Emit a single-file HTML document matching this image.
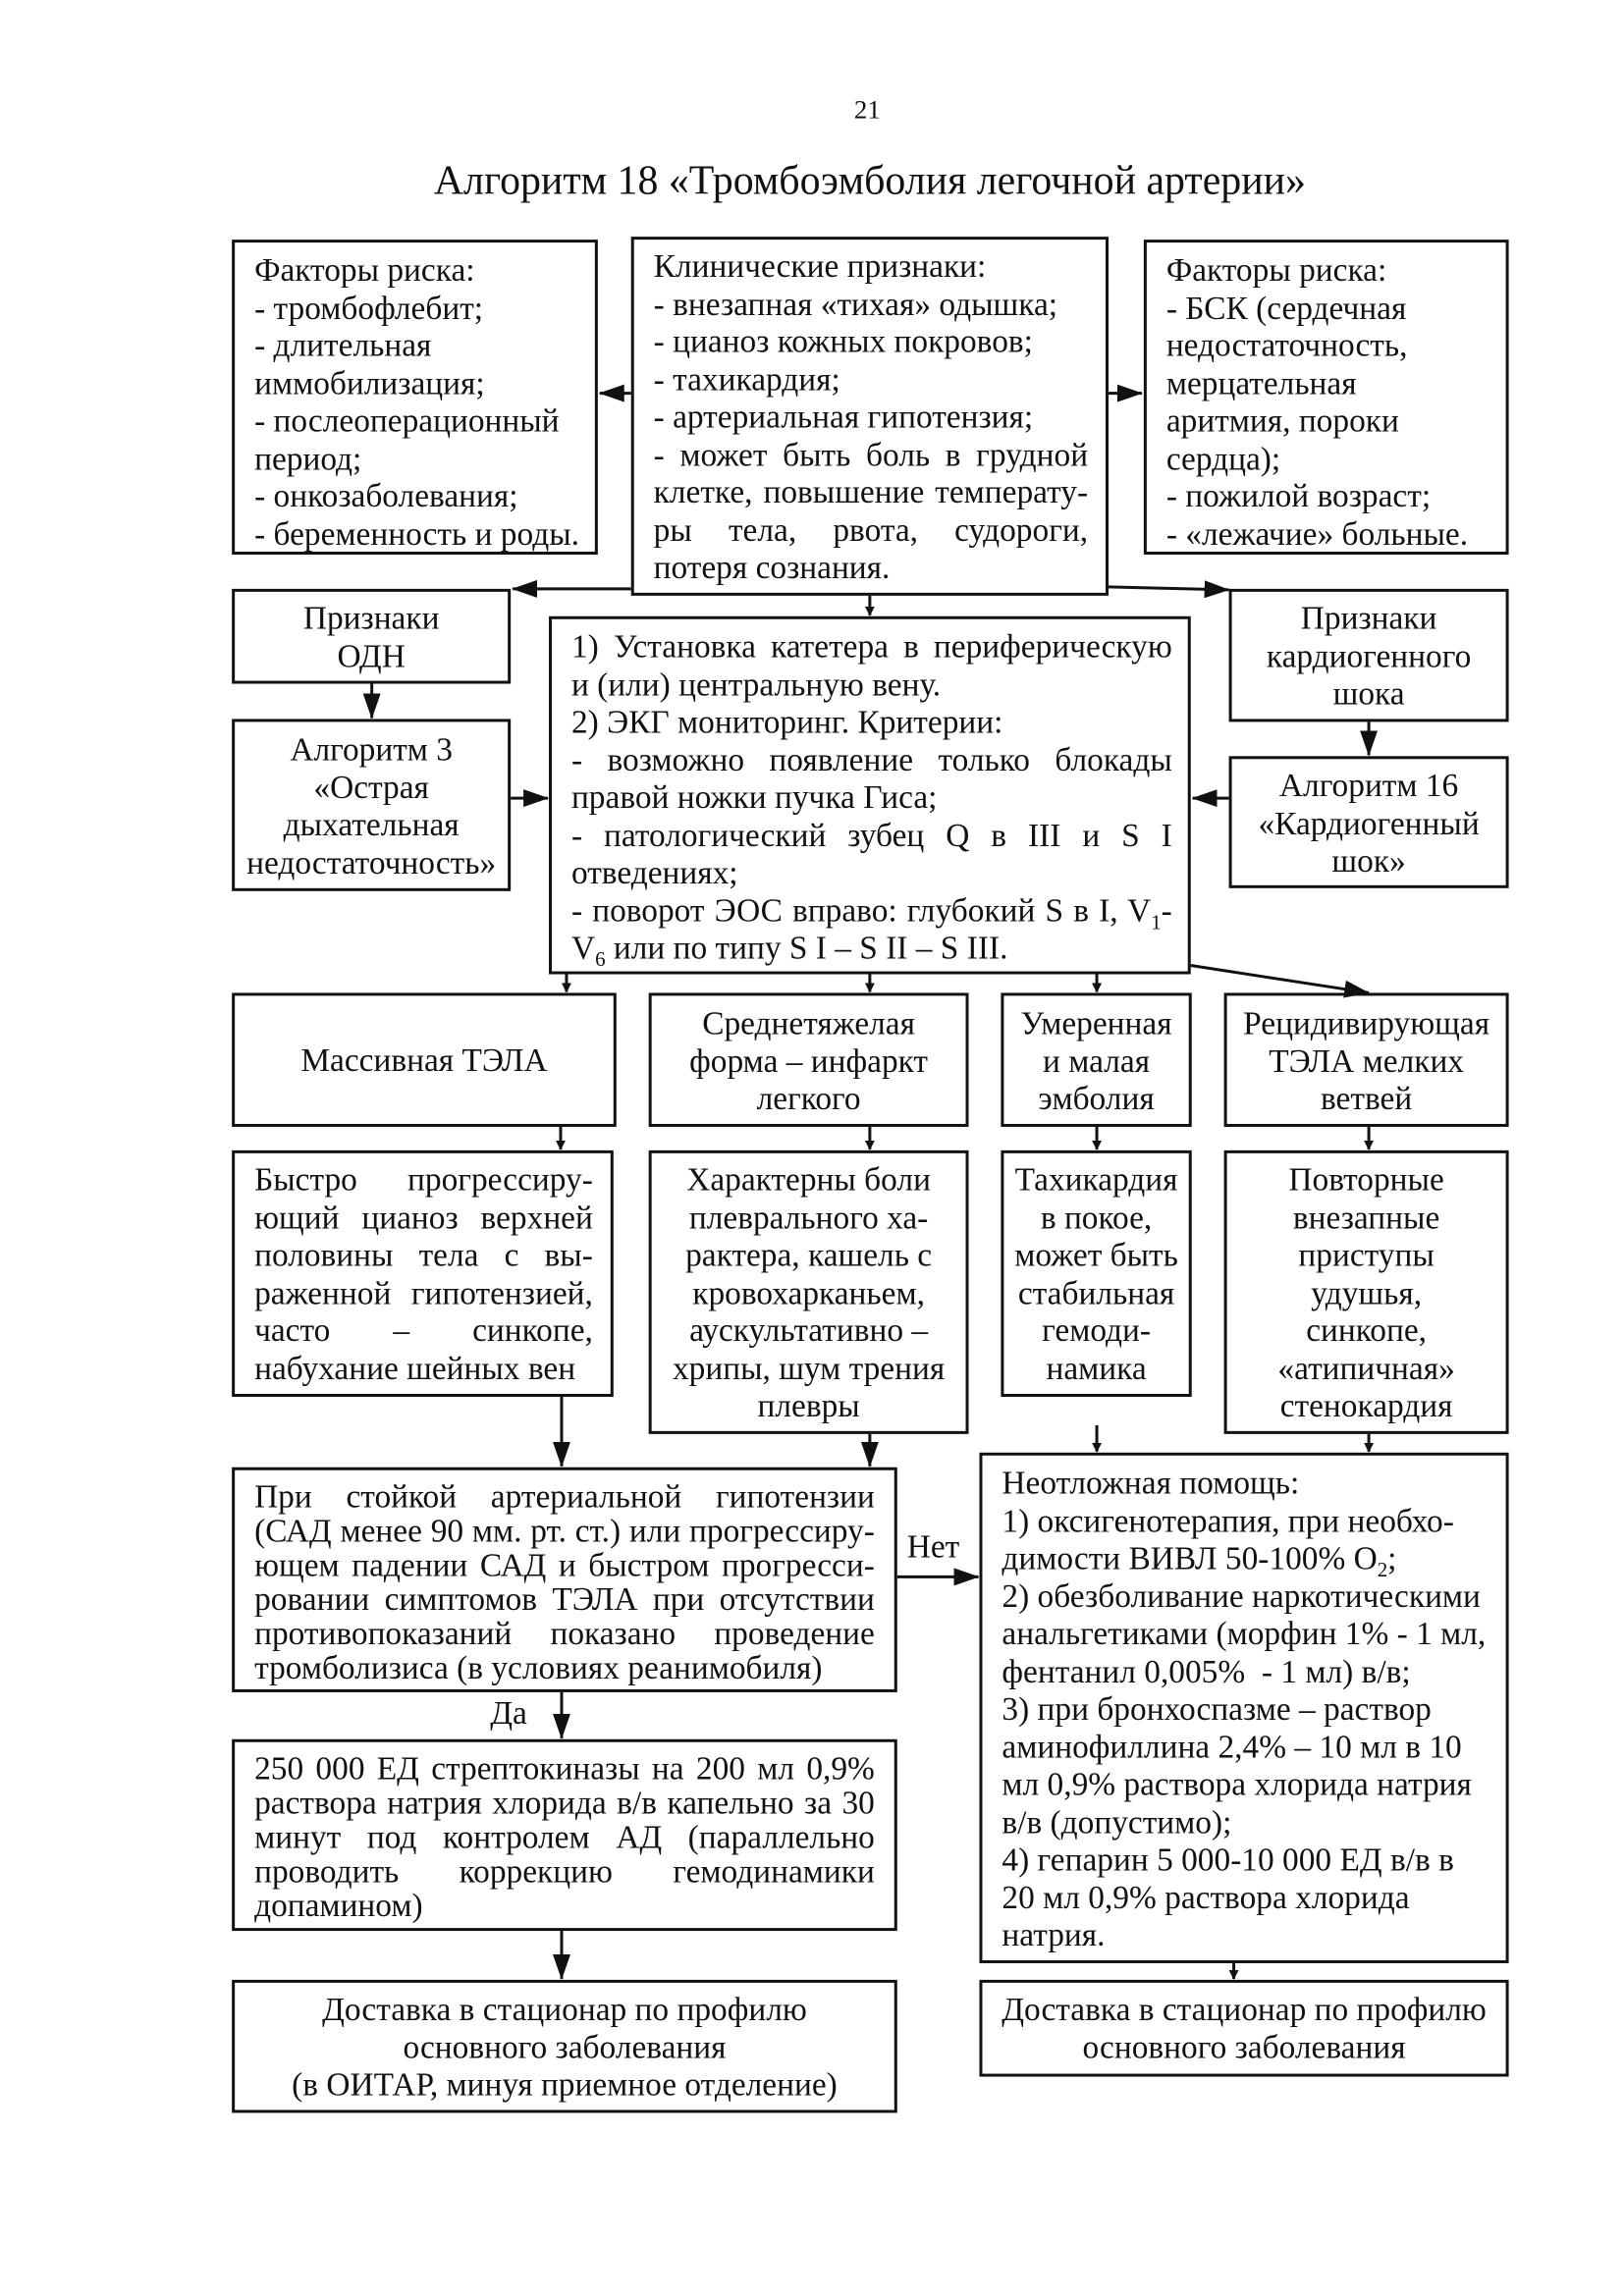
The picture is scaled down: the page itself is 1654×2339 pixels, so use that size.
<!DOCTYPE html>
<html><head><meta charset="utf-8">
<style>
body{margin:0;background:#fff;}
#p{position:relative;width:1654px;height:2339px;background:#fff;overflow:hidden;}
#q{position:absolute;left:0;top:0;width:1654px;height:2339px;transform:translate(-3px,-3px) scale(0.9965);transform-origin:0 0;font-family:"Liberation Serif","Noto Serif CJK SC",serif;color:#111;font-size:33.5px;}
.b{position:absolute;border:3px solid #111;box-sizing:border-box;overflow:hidden;}
.l{height:38.5px;line-height:38.5px;white-space:nowrap;}
.s .l{height:35px;line-height:35px;}
.j{text-align:justify;text-align-last:justify;}
.c{text-align:center;}
sub{font-size:21px;line-height:0;}
svg{position:absolute;left:0;top:0;}
.t{position:absolute;white-space:nowrap;}
</style></head><body><div id="p"><div id="q">
<div class="t" style="left:876px;top:100px;font-size:27px;">21</div>
<div class="t" style="left:0;width:1784px;top:164px;text-align:center;font-size:42px;">Алгоритм 18 «Тромбоэмболия легочной артерии»</div>

<div class="b" style="left:240px;top:248px;width:374px;height:322px;padding:10px 6px 0 20px;">
<div class="l">Факторы риска:</div><div class="l">- тромбофлебит;</div><div class="l">- длительная</div><div class="l">иммобилизация;</div><div class="l">- послеоперационный</div><div class="l">период;</div><div class="l">- онкозаболевания;</div><div class="l">- беременность и роды.</div></div>

<div class="b" style="left:648px;top:245px;width:488px;height:367px;padding:9px 18px 0 20px;">
<div class="l">Клинические признаки:</div><div class="l">- внезапная «тихая» одышка;</div><div class="l">- цианоз кожных покровов;</div><div class="l">- тахикардия;</div><div class="l">- артериальная гипотензия;</div><div class="l j">- может быть боль в грудной</div><div class="l j">клетке, повышение температу-</div><div class="l j">ры тела, рвота, судороги,</div><div class="l">потеря сознания.</div></div>

<div class="b" style="left:1172px;top:248px;width:373px;height:322px;padding:10px 6px 0 20px;">
<div class="l">Факторы риска:</div><div class="l">- БСК (сердечная</div><div class="l">недостаточность,</div><div class="l">мерцательная</div><div class="l">аритмия, пороки</div><div class="l">сердца);</div><div class="l">- пожилой возраст;</div><div class="l">- «лежачие» больные.</div></div>

<div class="b c" style="left:240px;top:605px;width:285px;height:97px;padding-top:9px;">
<div class="l">Признаки</div><div class="l">ОДН</div></div>

<div class="b" style="left:564px;top:633px;width:656px;height:366px;padding:10px 16px 0 20px;">
<div class="l j">1) Установка катетера в периферическую</div><div class="l">и (или) центральную вену.</div><div class="l">2) ЭКГ мониторинг. Критерии:</div><div class="l j">- возможно появление только блокады</div><div class="l">правой ножки пучка Гиса;</div><div class="l j">- патологический зубец Q в III и S I</div><div class="l">отведениях;</div><div class="l j">- поворот ЭОС вправо: глубокий S в I, V<sub>1</sub>-</div><div class="l">V<sub>6</sub> или по типу S I – S II – S III.</div></div>

<div class="b c" style="left:1259px;top:605px;width:286px;height:136px;padding-top:9px;">
<div class="l">Признаки</div><div class="l">кардиогенного</div><div class="l">шока</div></div>

<div class="b c" style="left:240px;top:738px;width:285px;height:176px;padding-top:10px;">
<div class="l">Алгоритм 3</div><div class="l">«Острая</div><div class="l">дыхательная</div><div class="l">недостаточность»</div></div>

<div class="b c" style="left:1259px;top:776px;width:286px;height:135px;padding-top:9px;">
<div class="l">Алгоритм 16</div><div class="l">«Кардиогенный</div><div class="l">шок»</div></div>

<div class="b c" style="left:240px;top:1018px;width:393px;height:137px;padding-top:48px;"><div class="l">Массивная ТЭЛА</div></div>
<div class="b c" style="left:666px;top:1018px;width:327px;height:137px;padding-top:10px;"><div class="l">Среднетяжелая</div><div class="l">форма – инфаркт</div><div class="l">легкого</div></div>
<div class="b c" style="left:1026px;top:1018px;width:195px;height:137px;padding-top:10px;"><div class="l">Умеренная</div><div class="l">и малая</div><div class="l">эмболия</div></div>
<div class="b c" style="left:1254px;top:1018px;width:291px;height:137px;padding-top:10px;"><div class="l">Рецидивирующая</div><div class="l">ТЭЛА мелких</div><div class="l">ветвей</div></div>

<div class="b" style="left:240px;top:1179px;width:390px;height:252px;padding:9px 18px 0 20px;">
<div class="l j">Быстро прогрессиру-</div><div class="l j">ющий цианоз верхней</div><div class="l j">половины тела с вы-</div><div class="l j">раженной гипотензией,</div><div class="l j">часто – синкопе,</div><div class="l">набухание шейных вен</div></div>
<div class="b c" style="left:666px;top:1179px;width:327px;height:290px;padding-top:9px;">
<div class="l">Характерны боли</div><div class="l">плеврального ха-</div><div class="l">рактера, кашель с</div><div class="l">кровохарканьем,</div><div class="l">аускультативно –</div><div class="l">хрипы, шум трения</div><div class="l">плевры</div></div>
<div class="b c" style="left:1026px;top:1179px;width:195px;height:252px;padding-top:9px;">
<div class="l">Тахикардия</div><div class="l">в покое,</div><div class="l">может быть</div><div class="l">стабильная</div><div class="l">гемоди-</div><div class="l">намика</div></div>
<div class="b c" style="left:1254px;top:1179px;width:291px;height:290px;padding-top:9px;">
<div class="l">Повторные</div><div class="l">внезапные</div><div class="l">приступы</div><div class="l">удушья,</div><div class="l">синкопе,</div><div class="l">«атипичная»</div><div class="l">стенокардия</div></div>

<div class="b s" style="left:240px;top:1503px;width:680px;height:230px;padding:10px 20px 0 20px;">
<div class="l j">При стойкой артериальной гипотензии</div><div class="l j">(САД менее 90 мм. рт. ст.) или прогрессиру-</div><div class="l j">ющем падении САД и быстром прогресси-</div><div class="l j">ровании симптомов ТЭЛА при отсутствии</div><div class="l j">противопоказаний показано проведение</div><div class="l">тромболизиса (в условиях реанимобиля)</div></div>

<div class="b" style="left:1004px;top:1488px;width:541px;height:522px;padding:10px 6px 0 20px;">
<div class="l">Неотложная помощь:</div><div class="l">1) оксигенотерапия, при необхо-</div><div class="l">димости ВИВЛ 50-100% O<sub>2</sub>;</div><div class="l">2) обезболивание наркотическими</div><div class="l">анальгетиками (морфин 1% - 1 мл,</div><div class="l">фентанил 0,005%&nbsp; - 1 мл) в/в;</div><div class="l">3) при бронхоспазме – раствор</div><div class="l">аминофиллина 2,4% – 10 мл в 10</div><div class="l">мл 0,9% раствора хлорида натрия</div><div class="l">в/в (допустимо);</div><div class="l">4) гепарин 5 000-10 000 ЕД в/в в</div><div class="l">20 мл 0,9% раствора хлорида</div><div class="l">натрия.</div></div>

<div class="b s" style="left:240px;top:1781px;width:680px;height:196px;padding:10px 20px 0 20px;">
<div class="l j">250 000 ЕД стрептокиназы на 200 мл 0,9%</div><div class="l j">раствора натрия хлорида в/в капельно за 30</div><div class="l j">минут под контролем АД (параллельно</div><div class="l j">проводить коррекцию гемодинамики</div><div class="l">допамином)</div></div>

<div class="b c" style="left:240px;top:2027px;width:680px;height:136px;padding-top:9px;">
<div class="l">Доставка в стационар по профилю</div><div class="l">основного заболевания</div><div class="l">(в ОИТАР, минуя приемное отделение)</div></div>
<div class="b c" style="left:1004px;top:2027px;width:541px;height:99px;padding-top:9px;">
<div class="l">Доставка в стационар по профилю</div><div class="l">основного заболевания</div></div>

<div class="t" style="left:930px;top:1566px;">Нет</div>
<div class="t" style="left:504px;top:1736px;">Да</div>

<svg width="1654" height="2339" viewBox="0 0 1654 2339">
<defs><marker id="a" markerWidth="10" markerHeight="10" refX="9" refY="5" orient="auto" markerUnits="userSpaceOnUse"><path d="M0,0 L10,5 L0,10 z" fill="#111"/></marker>
<marker id="A" markerWidth="26" markerHeight="18" refX="25" refY="9" orient="auto" markerUnits="userSpaceOnUse"><path d="M0,0 L26,9 L0,18 z" fill="#111"/></marker></defs>
<g stroke="#111" stroke-width="3" fill="none">
<line x1="648" y1="405" x2="616" y2="405" marker-end="url(#A)"/>
<line x1="1136" y1="405" x2="1170" y2="405" marker-end="url(#A)"/>
<line x1="648" y1="605" x2="527" y2="605" marker-end="url(#A)"/>
<line x1="1136" y1="603" x2="1259" y2="606" marker-end="url(#A)"/>
<line x1="892" y1="612" x2="892" y2="632" marker-end="url(#a)"/>
<line x1="383" y1="702" x2="383" y2="737" marker-end="url(#A)"/>
<line x1="525" y1="819" x2="563" y2="819" marker-end="url(#A)"/>
<line x1="1402" y1="741" x2="1402" y2="775" marker-end="url(#A)"/>
<line x1="1259" y1="819" x2="1222" y2="819" marker-end="url(#A)"/>
<line x1="582" y1="999" x2="582" y2="1017" marker-end="url(#a)"/>
<line x1="892" y1="999" x2="892" y2="1017" marker-end="url(#a)"/>
<line x1="1124" y1="999" x2="1124" y2="1017" marker-end="url(#a)"/>
<line x1="1220" y1="990" x2="1402" y2="1018" marker-end="url(#A)"/>
<line x1="576" y1="1155" x2="576" y2="1178" marker-end="url(#a)"/>
<line x1="892" y1="1155" x2="892" y2="1178" marker-end="url(#a)"/>
<line x1="1124" y1="1155" x2="1124" y2="1178" marker-end="url(#a)"/>
<line x1="1402" y1="1155" x2="1402" y2="1178" marker-end="url(#a)"/>
<line x1="577" y1="1431" x2="577" y2="1502" marker-end="url(#A)"/>
<line x1="892" y1="1469" x2="892" y2="1502" marker-end="url(#A)"/>
<line x1="1124" y1="1460" x2="1124" y2="1487" marker-end="url(#a)"/>
<line x1="1402" y1="1469" x2="1402" y2="1487" marker-end="url(#a)"/>
<line x1="920" y1="1615" x2="1003" y2="1615" marker-end="url(#A)"/>
<line x1="577" y1="1733" x2="577" y2="1780" marker-end="url(#A)"/>
<line x1="577" y1="1977" x2="577" y2="2026" marker-end="url(#A)"/>
<line x1="1264" y1="2010" x2="1264" y2="2026" marker-end="url(#a)"/>
</g></svg>
</div></div></body></html>
